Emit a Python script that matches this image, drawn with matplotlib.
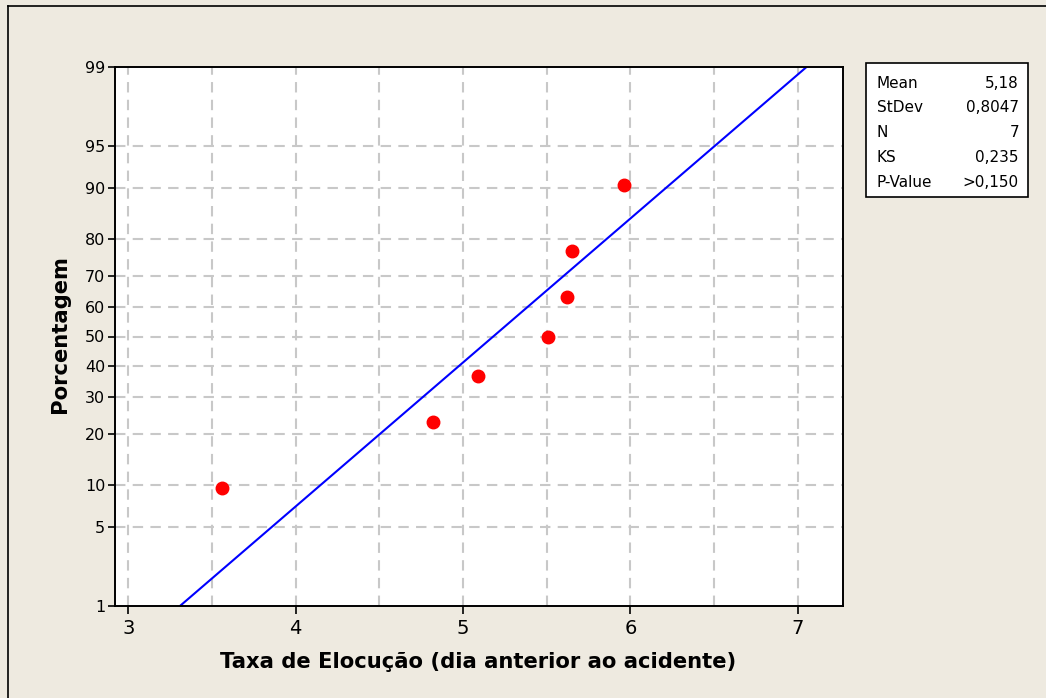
import numpy as np
import matplotlib
matplotlib.use("Agg")
import matplotlib.pyplot as plt
from matplotlib.patches import Rectangle
from matplotlib.lines import Line2D
from statistics import NormalDist

# data
taxa = [3.56, 4.82, 5.09, 5.51, 5.62, 5.65, 5.96]
percent = [9.5, 23.0, 36.5, 50.0, 63.5, 77.0, 90.5]

stat_names = ["Mean", "StDev", "N", "KS", "P-Value"]
stat_values = ["5,18", "0,8047", "7", "0,235", ">0,150"]
mean_val = 5.18
stdev_val = 0.8047

y_ticks = [1, 5, 10, 20, 30, 40, 50, 60, 70, 80, 90, 95, 99]
x_ticks = [3, 4, 5, 6, 7]
x_grid = [3, 3.5, 4, 4.5, 5, 5.5, 6, 6.5, 7]

BG = "#EEEAE0"
W, H = 1046, 698

nd = NormalDist()
_ppf = np.vectorize(lambda p: nd.inv_cdf(min(max(p / 100.0, 1e-9), 1 - 1e-9)), otypes=[float])
_cdf = np.vectorize(lambda z: nd.cdf(z) * 100.0, otypes=[float])


def fwd(p):
    return _ppf(np.asarray(p, dtype=float))


def inv(z):
    return _cdf(np.asarray(z, dtype=float))


fig = plt.figure(figsize=(W / 100, H / 100), dpi=100, facecolor=BG)
ax = fig.add_axes([115 / W, 1 - 606 / H, (843 - 115) / W, (606 - 67) / H])
ax.set_facecolor("white")
ax.set_yscale("function", functions=(fwd, inv))
ax.set_ylim(1, 99)
ax.set_xlim(2.92, 7.27)

# grid
for g in x_grid:
    ax.axvline(g, color="#C8C8C8", lw=1.5, ls=(0, (5, 3.5)), zorder=1)
for g in y_ticks[1:-1]:
    ax.axhline(g, color="#C8C8C8", lw=1.5, ls=(0, (5, 3.5)), zorder=1)

# fitted normal line
z_end = nd.inv_cdf(0.99)
line_x = [mean_val - stdev_val * z_end, mean_val + stdev_val * z_end]
ax.plot(line_x, [1, 99], color="#0000FF", lw=1.5, zorder=2, clip_on=True)

ax.plot(taxa, percent, "o", color="#FF0000", ms=9, mec="#FF0000", zorder=3)

ax.set_yticks(y_ticks)
ax.set_yticklabels([str(t) for t in y_ticks])
ax.set_xticks(x_ticks)
ax.set_xticklabels([str(t) for t in x_ticks])
ax.yaxis.set_minor_locator(matplotlib.ticker.NullLocator())
ax.tick_params(axis="y", direction="out", length=5, width=1.2, labelsize=11.5, pad=2)
ax.tick_params(axis="x", direction="out", length=6, width=1.2, labelsize=14, pad=3)
for s in ax.spines.values():
    s.set_linewidth(1.4)
    s.set_color("black")

fig.text(478 / W, 1 - 662 / H, "Taxa de Elocução (dia anterior ao acidente)",
         ha="center", va="center", fontsize=15.2, fontweight="bold")
fig.text(60 / W, 1 - 334 / H, "Porcentagem", ha="center", va="center",
         rotation=90, fontsize=15.2, fontweight="bold")

# stats box
fig.patches.append(Rectangle((866 / W, 1 - 197 / H), (1028 - 866) / W, (197 - 63) / H,
                             transform=fig.transFigure, facecolor="white",
                             edgecolor="black", lw=1.2))
for i, (n, v) in enumerate(zip(stat_names, stat_values)):
    y = 1 - (83 + i * 24.8) / H
    fig.text(877 / W, y, n, ha="left", va="center", fontsize=11)
    fig.text(1019 / W, y, v, ha="right", va="center", fontsize=11)

# outer frame (top and left edges visible)
fig.lines.append(Line2D([8 / W, 1.0], [1 - 6 / H, 1 - 6 / H], transform=fig.transFigure,
                        color="black", lw=1.2))
fig.lines.append(Line2D([8 / W, 8 / W], [0.0, 1 - 6 / H], transform=fig.transFigure,
                        color="black", lw=1.2))

fig.savefig("out.png", dpi=100, facecolor=BG)
